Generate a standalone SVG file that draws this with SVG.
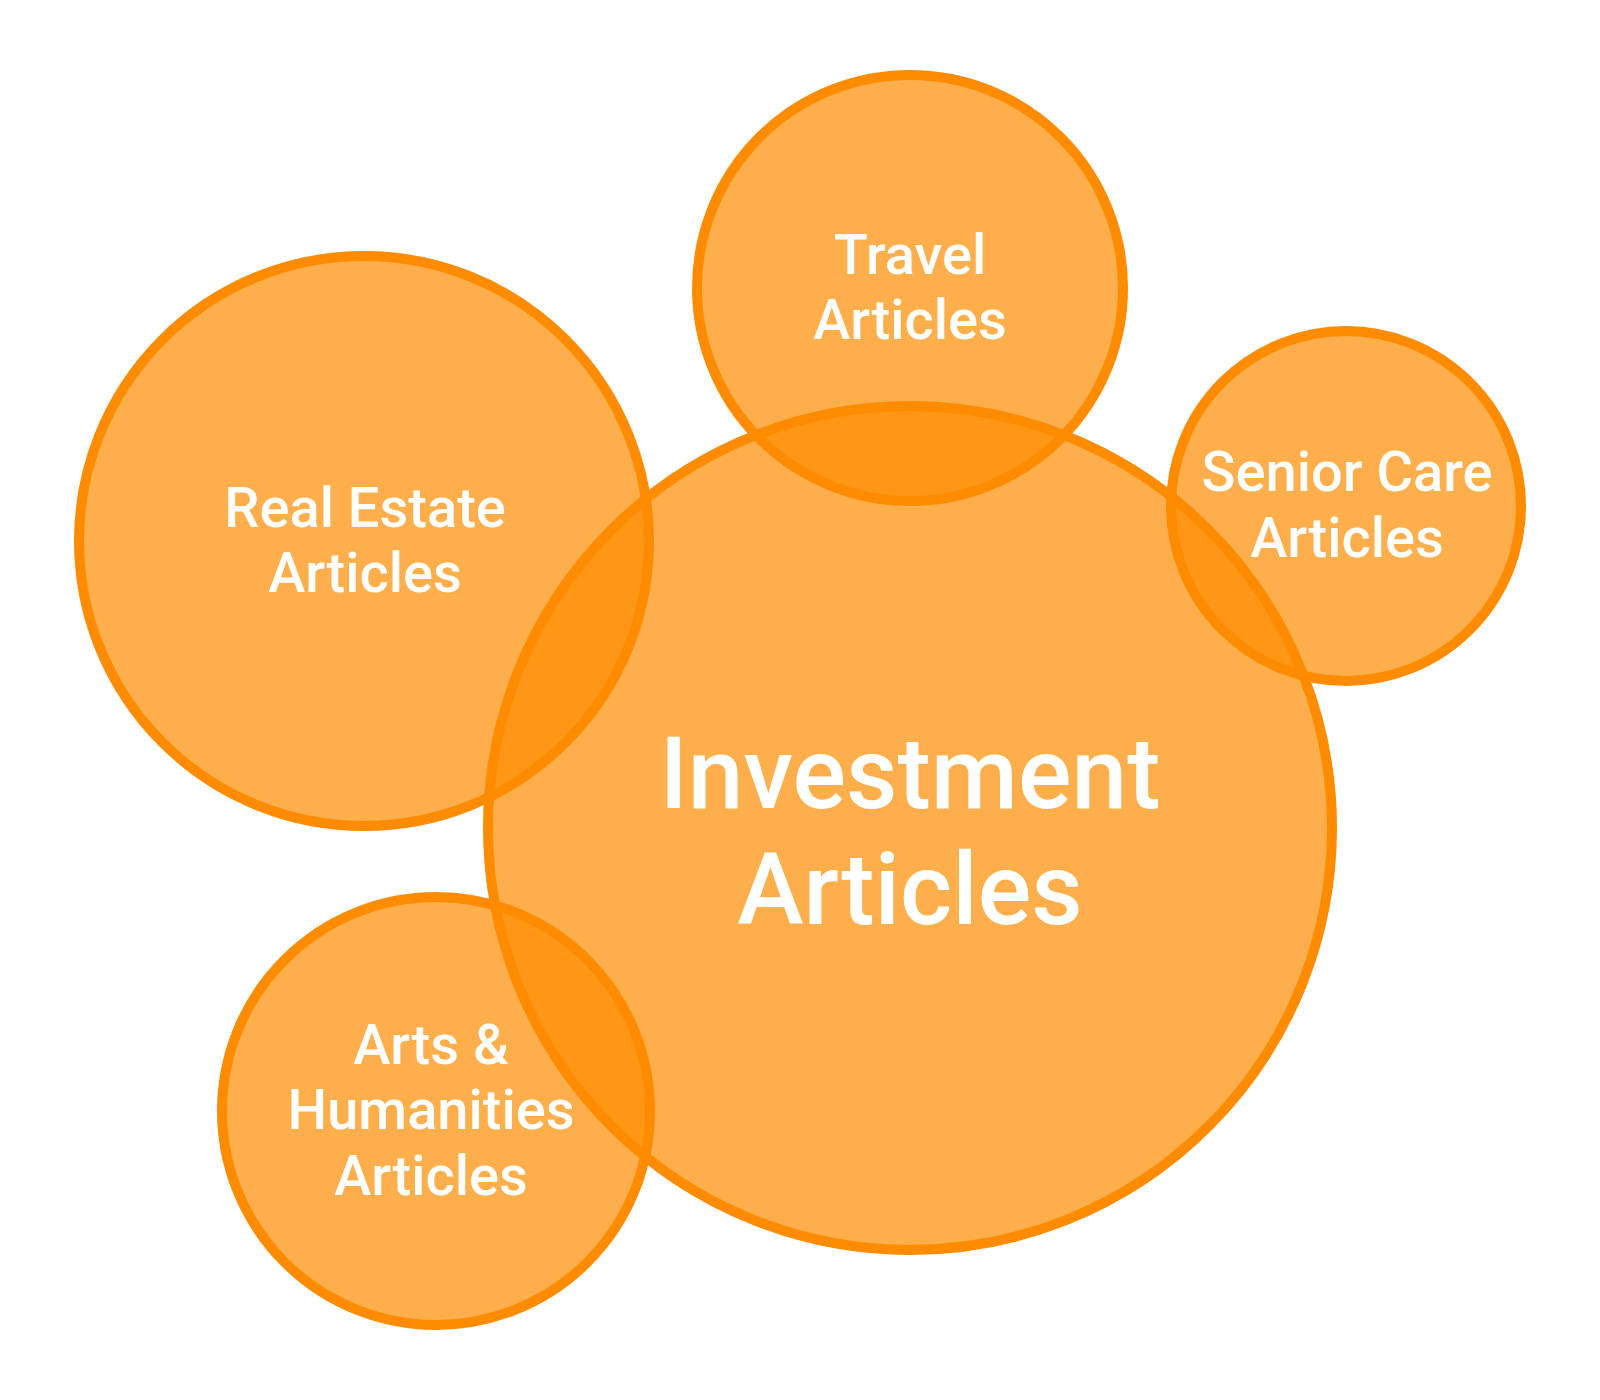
<svg xmlns="http://www.w3.org/2000/svg" width="1600" height="1400" viewBox="0 0 1600 1400">
  <style>
    .bubble { fill: #FF8C00; fill-opacity: 0.7; stroke: #FF8C00; stroke-width: 10; }
    .lbl { font-family: Roboto, "Liberation Sans", sans-serif; font-weight: 500; fill: #FFFFFF; text-anchor: middle; }
    .small { font-size: 56px; }
    .big { font-size: 100px; }
  </style>
  <rect width="1600" height="1400" fill="#FFFFFF"/>
  <g id="circles">
    <g id="node-real-estate"><circle class="bubble" cx="364" cy="541" r="285"/></g>
    <g id="node-travel"><circle class="bubble" cx="910" cy="288" r="213"/></g>
    <g id="node-senior-care"><circle class="bubble" cx="1346" cy="506" r="175"/></g>
    <g id="node-arts"><circle class="bubble" cx="436" cy="1111" r="214"/></g>
    <g id="node-investment"><circle class="bubble" cx="910" cy="828" r="422"/></g>
  </g>
  <g id="labels">
    <text class="lbl small" x="365"><tspan x="365" y="527">Real Estate</tspan><tspan x="365" y="592">Articles</tspan></text>
    <text class="lbl small" x="910"><tspan x="910" y="274">Travel</tspan><tspan x="910" y="339">Articles</tspan></text>
    <text class="lbl small" x="1347"><tspan x="1347" y="491">Senior Care</tspan><tspan x="1347" y="557">Articles</tspan></text>
    <text class="lbl small" x="431"><tspan x="431" y="1064">Arts &amp;</tspan><tspan x="431" y="1129">Humanities</tspan><tspan x="431" y="1195">Articles</tspan></text>
    <text class="lbl big" x="910"><tspan x="910" y="808">Investment</tspan><tspan x="910" y="924">Articles</tspan></text>
  </g>
</svg>
